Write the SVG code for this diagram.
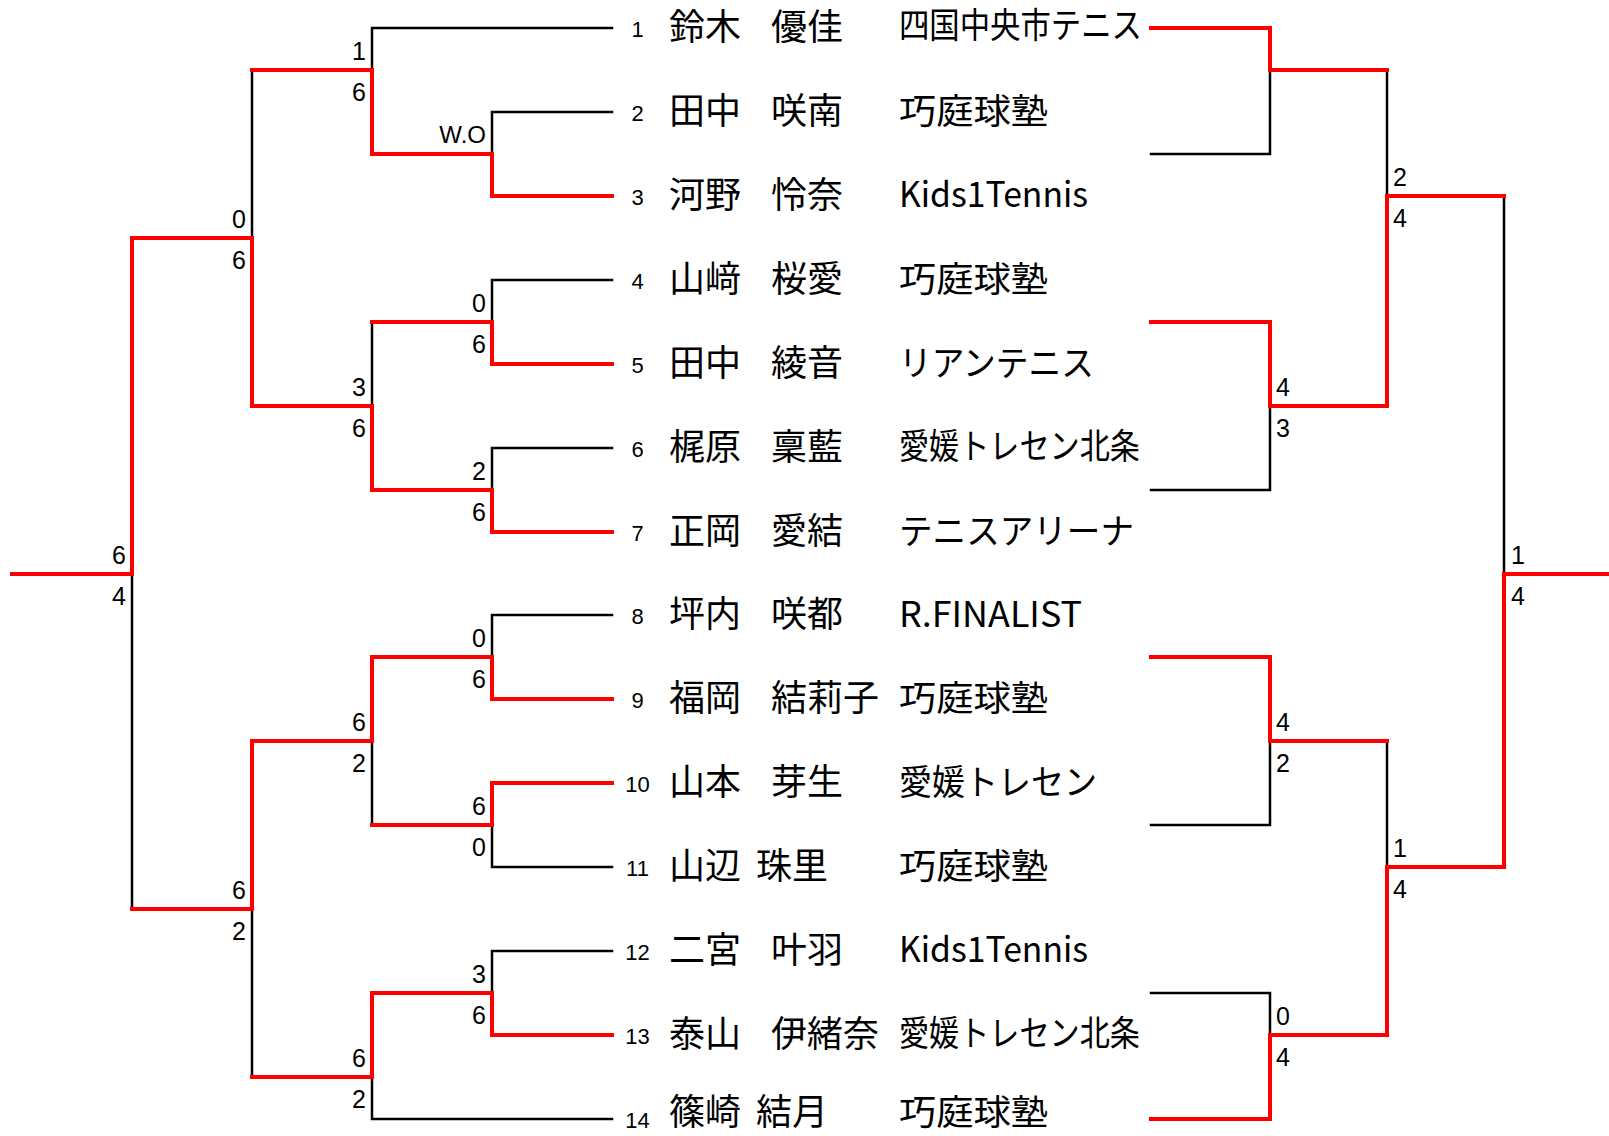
<svg xmlns="http://www.w3.org/2000/svg" width="1609" height="1136" viewBox="0 0 1609 1136">
<style>
.bk{fill:none;stroke:#000;stroke-width:2.5;stroke-linecap:square;stroke-linejoin:miter}
.rd{fill:none;stroke:#ff0000;stroke-width:4;stroke-linecap:square;stroke-linejoin:miter}
.sc{font-family:"Liberation Sans",Arial,sans-serif;font-size:25px;fill:#000}
.scl{text-anchor:end}
.num{font-family:"Liberation Sans",Arial,sans-serif;font-size:22px;fill:#000;text-anchor:middle}
.nm{font-family:"Noto Sans CJK JP","Noto Sans CJK SC",sans-serif;font-size:36px;fill:#000}
.cl{font-family:"Noto Sans CJK JP","Noto Sans CJK SC",sans-serif;font-size:35px;fill:#000}
.wo{font-family:"Liberation Sans",Arial,sans-serif;font-size:24px;fill:#000;text-anchor:end}
</style>
<rect width="1609" height="1136" fill="#fff"/>
<g id="connectors">
<g id="black-lines">
<path class="bk" d="M612,28 H372 V70"/>
<path class="bk" d="M612,112 H492 V154"/>
<path class="bk" d="M612,280 H492 V322"/>
<path class="bk" d="M372,322 V406"/>
<path class="bk" d="M612,448 H492 V490"/>
<path class="bk" d="M252,70 V238"/>
<path class="bk" d="M612,615 H492 V657"/>
<path class="bk" d="M612,867 H492 V825"/>
<path class="bk" d="M372,825 V741"/>
<path class="bk" d="M612,951 H492 V993"/>
<path class="bk" d="M612,1119 H372 V1077"/>
<path class="bk" d="M252,1077 V909"/>
<path class="bk" d="M132,909 V574"/>
<path class="bk" d="M1151,154 H1270 V70"/>
<path class="bk" d="M1151,490 H1270 V406"/>
<path class="bk" d="M1387,70 V196"/>
<path class="bk" d="M1151,825 H1270 V741"/>
<path class="bk" d="M1151,993 H1270 V1035"/>
<path class="bk" d="M1387,741 V867"/>
<path class="bk" d="M1504,196 V574"/>
</g>
<g id="red-lines">
<path class="rd" d="M612,196 H492 V154 H372 V70 H252"/>
<path class="rd" d="M612,364 H492 V322 H372"/>
<path class="rd" d="M612,532 H492 V490 H372 V406 H252 V238 H132 V574 H12"/>
<path class="rd" d="M612,699 H492 V657 H372 V741 H252 V909 H132"/>
<path class="rd" d="M612,783 H492 V825 H372"/>
<path class="rd" d="M612,1035 H492 V993 H372 V1077 H252"/>
<path class="rd" d="M1151,28 H1270 V70 H1387"/>
<path class="rd" d="M1151,322 H1270 V406 H1387 V196 H1504"/>
<path class="rd" d="M1151,657 H1270 V741 H1387"/>
<path class="rd" d="M1151,1119 H1270 V1035 H1387 V867 H1504 V574 H1611"/>
</g>
<g id="scores">
<text class="wo" x="486" y="143">W.O</text>
<text class="sc scl" x="366" y="60">1</text><text class="sc scl" x="366" y="101">6</text>
<text class="sc scl" x="486" y="312">0</text><text class="sc scl" x="486" y="353">6</text>
<text class="sc scl" x="486" y="480">2</text><text class="sc scl" x="486" y="521">6</text>
<text class="sc scl" x="366" y="396">3</text><text class="sc scl" x="366" y="437">6</text>
<text class="sc scl" x="246" y="228">0</text><text class="sc scl" x="246" y="269">6</text>
<text class="sc scl" x="486" y="647">0</text><text class="sc scl" x="486" y="688">6</text>
<text class="sc scl" x="486" y="815">6</text><text class="sc scl" x="486" y="856">0</text>
<text class="sc scl" x="366" y="731">6</text><text class="sc scl" x="366" y="772">2</text>
<text class="sc scl" x="486" y="983">3</text><text class="sc scl" x="486" y="1024">6</text>
<text class="sc scl" x="366" y="1067">6</text><text class="sc scl" x="366" y="1108">2</text>
<text class="sc scl" x="246" y="899">6</text><text class="sc scl" x="246" y="940">2</text>
<text class="sc scl" x="126" y="564">6</text><text class="sc scl" x="126" y="605">4</text>
<text class="sc" x="1276" y="396">4</text><text class="sc" x="1276" y="437">3</text>
<text class="sc" x="1393" y="186">2</text><text class="sc" x="1393" y="227">4</text>
<text class="sc" x="1276" y="731">4</text><text class="sc" x="1276" y="772">2</text>
<text class="sc" x="1276" y="1025">0</text><text class="sc" x="1276" y="1066">4</text>
<text class="sc" x="1393" y="857">1</text><text class="sc" x="1393" y="898">4</text>
<text class="sc" x="1511" y="564">1</text><text class="sc" x="1511" y="605">4</text>
</g>
</g>
<g id="p1"><text class="num" x="637.5" y="37">1</text><text class="nm" y="40"><tspan x="669">鈴木</tspan><tspan x="771">優佳</tspan></text><text class="cl" x="899" y="38" font-size="29" textLength="243" lengthAdjust="spacingAndGlyphs">四国中央市テニス</text></g>
<g id="p2"><text class="num" x="637.5" y="121">2</text><text class="nm" y="124"><tspan x="669">田中</tspan><tspan x="771">咲南</tspan></text><text class="cl" x="899" y="124" textLength="149" lengthAdjust="spacingAndGlyphs">巧庭球塾</text></g>
<g id="p3"><text class="num" x="637.5" y="205">3</text><text class="nm" y="208"><tspan x="669">河野</tspan><tspan x="771">怜奈</tspan></text><text class="cl" x="899" y="207" font-size="32" textLength="189" lengthAdjust="spacingAndGlyphs">Kids1Tennis</text></g>
<g id="p4"><text class="num" x="637.5" y="289">4</text><text class="nm" y="292"><tspan x="669">山﨑</tspan><tspan x="771">桜愛</tspan></text><text class="cl" x="899" y="292" textLength="149" lengthAdjust="spacingAndGlyphs">巧庭球塾</text></g>
<g id="p5"><text class="num" x="637.5" y="373">5</text><text class="nm" y="376"><tspan x="669">田中</tspan><tspan x="771">綾音</tspan></text><text class="cl" x="899" y="376" textLength="195" lengthAdjust="spacingAndGlyphs">リアンテニス</text></g>
<g id="p6"><text class="num" x="637.5" y="457">6</text><text class="nm" y="460"><tspan x="669">梶原</tspan><tspan x="771">稟藍</tspan></text><text class="cl" x="899" y="459" font-size="31" textLength="241" lengthAdjust="spacingAndGlyphs">愛媛トレセン北条</text></g>
<g id="p7"><text class="num" x="637.5" y="541">7</text><text class="nm" y="544"><tspan x="669">正岡</tspan><tspan x="771">愛結</tspan></text><text class="cl" x="899" y="544" textLength="235" lengthAdjust="spacingAndGlyphs">テニスアリーナ</text></g>
<g id="p8"><text class="num" x="637.5" y="624">8</text><text class="nm" y="627"><tspan x="669">坪内</tspan><tspan x="771">咲都</tspan></text><text class="cl" x="899" y="627" font-size="32" textLength="183" lengthAdjust="spacingAndGlyphs">R.FINALIST</text></g>
<g id="p9"><text class="num" x="637.5" y="708">9</text><text class="nm" y="711"><tspan x="669">福岡</tspan><tspan x="771">結莉子</tspan></text><text class="cl" x="899" y="711" textLength="149" lengthAdjust="spacingAndGlyphs">巧庭球塾</text></g>
<g id="p10"><text class="num" x="637.5" y="792">10</text><text class="nm" y="795"><tspan x="669">山本</tspan><tspan x="771">芽生</tspan></text><text class="cl" x="899" y="795" textLength="198" lengthAdjust="spacingAndGlyphs">愛媛トレセン</text></g>
<g id="p11"><text class="num" x="637.5" y="876">11</text><text class="nm" y="879"><tspan x="669">山辺</tspan><tspan x="756">珠里</tspan></text><text class="cl" x="899" y="879" textLength="149" lengthAdjust="spacingAndGlyphs">巧庭球塾</text></g>
<g id="p12"><text class="num" x="637.5" y="960">12</text><text class="nm" y="963"><tspan x="669">二宮</tspan><tspan x="771">叶羽</tspan></text><text class="cl" x="899" y="962" font-size="32" textLength="189" lengthAdjust="spacingAndGlyphs">Kids1Tennis</text></g>
<g id="p13"><text class="num" x="637.5" y="1044">13</text><text class="nm" y="1047"><tspan x="669">泰山</tspan><tspan x="771">伊緒奈</tspan></text><text class="cl" x="899" y="1046" font-size="31" textLength="241" lengthAdjust="spacingAndGlyphs">愛媛トレセン北条</text></g>
<g id="p14"><text class="num" x="637.5" y="1128">14</text><text class="nm" y="1125"><tspan x="669">篠崎</tspan><tspan x="756">結月</tspan></text><text class="cl" x="899" y="1125" textLength="149" lengthAdjust="spacingAndGlyphs">巧庭球塾</text></g>
</svg>
